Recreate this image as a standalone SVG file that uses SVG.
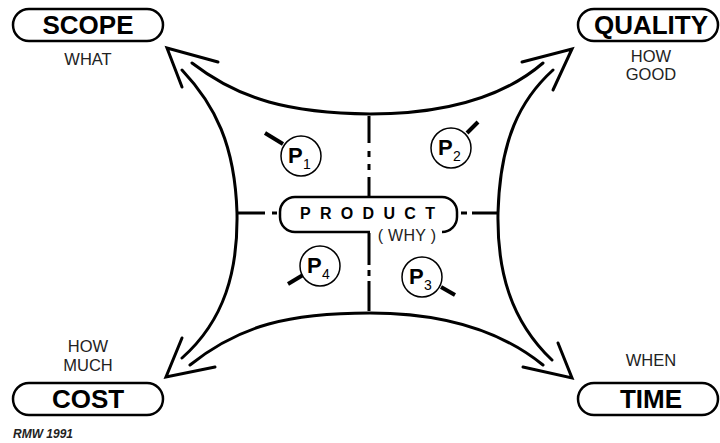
<svg xmlns="http://www.w3.org/2000/svg" width="720" height="443" viewBox="0 0 720 443">
<style>
.box{fill:#fff;stroke:#000;stroke-width:2.5}
.lbl{font-family:"Liberation Sans",Arial,sans-serif;font-weight:bold;font-size:26px;fill:#000;text-anchor:middle}
.sub{font-family:"Liberation Sans",Arial,sans-serif;font-size:16.5px;fill:#222;text-anchor:middle}
.crv{fill:none;stroke:#000;stroke-width:3;stroke-linecap:round;stroke-linejoin:round}
.ah{fill:none;stroke:#000;stroke-width:3;stroke-linecap:round;stroke-linejoin:miter}
.div{fill:none;stroke:#000;stroke-width:3}
.pc{fill:#fff;stroke:#000;stroke-width:1.5}
.ph{stroke:#000;stroke-width:4}
.pt{font-family:"Liberation Sans",Arial,sans-serif;font-weight:bold;font-size:22px;fill:#000}
.ps{font-family:"Liberation Sans",Arial,sans-serif;font-size:14px;fill:#000}
</style>
<rect width="720" height="443" fill="#fff"/>
<g id="connectors">
  <path class="crv" d="M192,63 C240,100 290,113 370,114 C440,114 500,100 543,63"/>
  <path class="crv" d="M182,70 C215,105 235,145 237,213 C238,270 225,320 182,358"/>
  <path class="crv" d="M190,365 C240,325 290,313 370,313 C440,313 500,330 543,365"/>
  <path class="crv" d="M553,70 C520,100 500,140 498,213 C497,270 510,320 552,360"/>
  <path class="ah" d="M218,62 L167,48 L182,87"/>
  <path class="ah" d="M522,62 L572,49 L553,90"/>
  <path class="ah" d="M182,338 L166,377 L215,367"/>
  <path class="ah" d="M523,367 L572,378 L558,343"/>
  <path class="div" d="M369,116 V143 M369,151 V157 M369,164 V170 M369,177 V197"/>
  <path class="div" d="M369,233 V265 M369,270 V276 M369,281 V311"/>
  <path class="div" d="M238,213 H265 M272,213 H277"/>
  <path class="div" d="M461,213 H467 M472,213 H497"/>
</g>
<g id="product">
  <path fill="#fff" stroke="#000" stroke-width="2.5" d="M370,232 H295 A15,15 0 0 1 280,217 V212 A15,15 0 0 1 295,197 H442 A15,15 0 0 1 457,212 V217 A15,15 0 0 1 442,232"/>
  <text x="300" y="219" font-family="'Liberation Sans',Arial,sans-serif" font-weight="bold" font-size="16" letter-spacing="9.3" fill="#000">PRODUCT</text>
  <text x="407" y="241" font-family="'Liberation Sans',Arial,sans-serif" font-size="16" letter-spacing="0.3" fill="#222" text-anchor="middle">( WHY )</text>
</g>
<g id="scope">
  <rect class="box" x="13" y="9" width="150" height="32" rx="16"/>
  <text class="lbl" x="88" y="34">SCOPE</text>
  <text class="sub" x="88" y="65">WHAT</text>
</g>
<g id="quality">
  <rect class="box" x="578" y="9" width="140" height="32" rx="16"/>
  <text class="lbl" x="651" y="34">QUALITY</text>
  <text class="sub" x="651" y="62">HOW</text>
  <text class="sub" x="651" y="80">GOOD</text>
</g>
<g id="cost">
  <text class="sub" x="88" y="352">HOW</text>
  <text class="sub" x="88" y="371">MUCH</text>
  <rect class="box" x="13" y="383" width="150" height="32" rx="16"/>
  <text class="lbl" x="88" y="408">COST</text>
</g>
<g id="time">
  <text class="sub" x="651" y="366">WHEN</text>
  <rect class="box" x="578" y="383" width="140" height="32" rx="16"/>
  <text class="lbl" x="651" y="408">TIME</text>
</g>
<g id="p1">
  <line class="ph" x1="265" y1="133" x2="283" y2="144"/>
  <circle class="pc" cx="301" cy="156" r="20"/>
  <text class="pt" x="288" y="163">P</text><text class="ps" x="303" y="169">1</text>
</g>
<g id="p2">
  <line class="ph" x1="467" y1="133" x2="478" y2="122"/>
  <circle class="pc" cx="451" cy="148" r="20"/>
  <text class="pt" x="438" y="155">P</text><text class="ps" x="453" y="161">2</text>
</g>
<g id="p3">
  <line class="ph" x1="441" y1="287" x2="455" y2="295"/>
  <circle class="pc" cx="422" cy="277" r="20"/>
  <text class="pt" x="409" y="284">P</text><text class="ps" x="424" y="290">3</text>
</g>
<g id="p4">
  <line class="ph" x1="303" y1="275" x2="288" y2="284"/>
  <circle class="pc" cx="320" cy="266" r="20"/>
  <text class="pt" x="307" y="273">P</text><text class="ps" x="322" y="279">4</text>
</g>
<text x="13" y="438" font-family="'Liberation Sans',Arial,sans-serif" font-weight="bold" font-style="italic" font-size="12" fill="#222">RMW 1991</text>
</svg>
